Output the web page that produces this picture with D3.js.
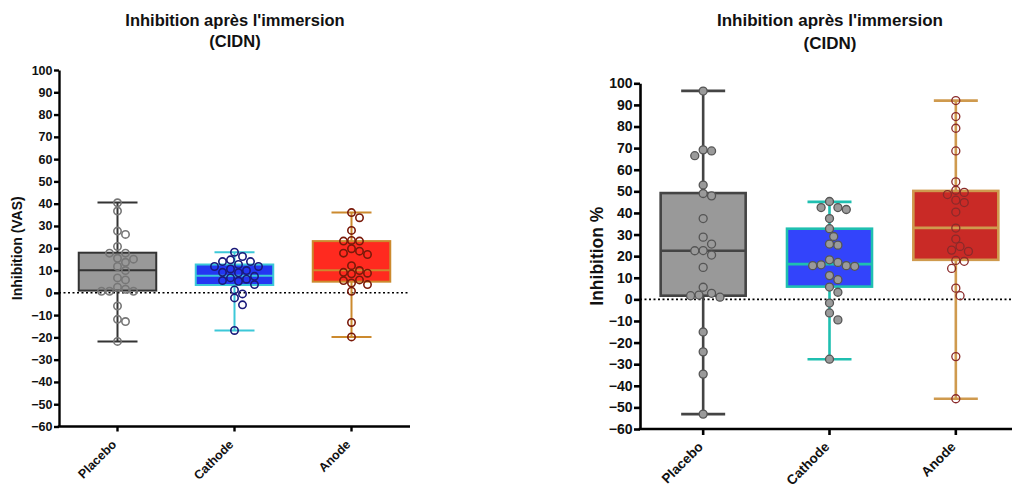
<!DOCTYPE html>
<html><head><meta charset="utf-8">
<script src="https://cdn.jsdelivr.net/npm/d3@7"></script>
<style>
body{margin:0;background:#fff;}
svg{display:block;font-family:Arial,"Liberation Sans",Helvetica,sans-serif;}
</style></head>
<body><svg id="c" width="1012" height="485"></svg>
<script>
const categories = ["Placebo","Cathode","Anode"];
const yTicks = [100,90,80,70,60,50,40,30,20,10,0,-10,-20,-30,-40,-50,-60];
const title = ["Inhibition après l'immersion","(CIDN)"];

// Left chart (VAS)
const vasPlacebo = [40.4,36.7,26.2,27.7,20.8,17.8,17.8,15.1,15.5,13.7,11.8,10,5.8,6.7,1.6,0.7,0.7,0.7,2.5,-5.9,-11.9,-12.9,-21.8];
const vasCathode = [18.2,16.3,14.8,14,14,12.7,11.8,11.8,10.7,10,9.2,9,7.4,6.7,6.1,5.2,5.5,3.7,1.3,-0.5,-2.3,-5.4,-16.9];
const vasAnode = [36,33.7,28,23.5,23.2,23.2,19.8,17.8,17.2,18.7,12.2,10,8.5,8.8,9.2,4.4,5.5,3.7,5.8,0.7,-13.3,-19.8];
// box stats: [whiskerLow, q1, median, q3, whiskerHigh]
const vasBoxes = [[-21.8,1,10.1,18,40.5],[-16.9,3.5,7.7,12.7,18.2],[-19.8,5,10.1,23.2,36]];

// Right chart (%)
const pctPlacebo = [96.4,69.2,66.5,68.7,52.9,47.9,49,37.4,28.8,25.6,22.5,22.6,20.5,14.8,5.6,2,1,1.7,2.8,-15.1,-24.3,-34.6,-53.1];
const pctCathode = [45.3,42.5,41.6,42.5,37.4,32.7,29.1,25.1,25.6,18.3,16,15.6,15.3,15.6,17.1,11,9.1,5.7,3.3,-1.7,-6.3,-9.5,-27.7];
const pctAnode = [92,84.6,79.2,68.7,54.4,50.5,49.5,48.5,44.8,45.9,40.4,33,27.9,24.5,22.2,22.8,18,17.6,14.3,5.2,1.7,-26.5,-46];
const pctBoxes = [[-53.1,1.7,22.5,49.2,96.5],[-27.7,5.9,16.3,32.7,45.1],[-46,18.3,33.1,50.2,92]];

const svg = d3.select("#c");

function beeswarm(vals, y, r, gap){
  const order = vals.map((v,i)=>({v,i})).sort((a,b)=>b.v-a.v);
  const placed = [];
  const out = new Array(vals.length);
  const d = 2*r+gap;
  const cands=[0];
  for(let j=1;j<20;j++){cands.push(j*d/2); cands.push(-j*d/2);}
  order.forEach(p=>{
    const py = y(p.v);
    let x=0;
    for(const cx of cands){
      const ok = placed.every(q=> (q.x-cx)**2+(q.y-py)**2 >= d*d-0.01);
      if(ok){x=cx;break;}
    }
    placed.push({x,y:py});
    out[p.i]={x,y:py,v:p.v};
  });
  return out;
}

function drawChart(cfg){
  const g = svg.append("g");
  const y = d3.scaleLinear().domain([-60,100]).range([cfg.y0, cfg.y1]);
  const x = d3.scaleBand().domain(categories).range([cfg.x0, cfg.x0+cfg.bandTotal]);
  const cx = c => x(c)+x.bandwidth()/2;

  title.forEach((t,i)=>{
    g.append("text").attr("x",cfg.titleX).attr("y",cfg.titleY+i*cfg.titleGap)
      .attr("text-anchor","middle").attr("font-weight","bold").attr("font-size",cfg.titleSize)
      .attr("fill","#111").text(t);
  });

  g.append("line").attr("x1",cfg.x0).attr("x2",cfg.xEnd).attr("y1",y(0)).attr("y2",y(0))
    .attr("stroke","#000").attr("stroke-width",1.6).attr("stroke-dasharray","2,2.5");

  categories.forEach((c,i)=>{
    const b = cfg.boxes[i], st = cfg.styles[i];
    const xc = cx(c), bw = cfg.boxW;
    g.append("line").attr("x1",xc).attr("x2",xc).attr("y1",y(b[0])).attr("y2",y(b[4]))
      .attr("stroke",st.stroke).attr("stroke-width",cfg.lw);
    [b[0],b[4]].forEach(v=>g.append("line").attr("x1",xc-cfg.capW/2).attr("x2",xc+cfg.capW/2)
      .attr("y1",y(v)).attr("y2",y(v)).attr("stroke",st.stroke).attr("stroke-width",cfg.lw));
    g.append("rect").attr("x",xc-bw/2).attr("width",bw).attr("y",y(b[3])).attr("height",y(b[1])-y(b[3]))
      .attr("fill",st.fill).attr("stroke",st.stroke).attr("stroke-width",cfg.lw);
    g.append("line").attr("x1",xc-bw/2).attr("x2",xc+bw/2).attr("y1",y(b[2])).attr("y2",y(b[2]))
      .attr("stroke",st.stroke).attr("stroke-width",cfg.lw);
  });

  categories.forEach((c,i)=>{
    const st = cfg.styles[i];
    const pts = beeswarm(cfg.data[i], y, cfg.r, cfg.gap);
    g.append("g").selectAll("circle").data(pts).join("circle")
      .attr("cx",d=>cx(c)+d.x).attr("cy",d=>d.y).attr("r",cfg.r)
      .attr("fill",st.ptFill).attr("stroke",st.ptStroke).attr("stroke-width",cfg.ptLw);
  });

  const ya = g.append("g").attr("transform",`translate(${cfg.x0},0)`)
    .call(d3.axisLeft(y).tickValues(yTicks).tickSize(cfg.tick).tickSizeOuter(0).tickPadding(1.5));
  ya.select(".domain").attr("stroke","#000").attr("stroke-width",cfg.axLw);
  ya.selectAll(".tick line").attr("stroke","#000").attr("stroke-width",cfg.axLw);
  ya.selectAll(".tick text").attr("font-weight","bold").attr("font-size",cfg.tickSize)
    .attr("font-family","Arial,'Liberation Sans',sans-serif").attr("fill","#111");

  const xa = g.append("g").attr("transform",`translate(0,${cfg.y0})`)
    .call(d3.axisBottom(x).tickSize(cfg.tick).tickSizeOuter(0).tickPadding(3));
  xa.select(".domain").attr("d",`M${cfg.x0-cfg.axLw/2},0H${cfg.xEnd}`).attr("stroke","#000").attr("stroke-width",cfg.axLw);
  xa.selectAll(".tick line").attr("stroke","#000").attr("stroke-width",cfg.axLw);
  xa.selectAll(".tick text").attr("font-weight","bold").attr("font-size",cfg.xTickSize)
    .attr("font-family","Arial,'Liberation Sans',sans-serif").attr("fill","#111")
    .attr("text-anchor","end").attr("dy","0.35em")
    .attr("transform",`translate(${cfg.xlDx},${cfg.xlDy}) rotate(-45)`);

  g.append("text").attr("transform",`translate(${cfg.ylabX},${(cfg.y0+cfg.y1)/2}) rotate(-90)`)
    .attr("text-anchor","middle").attr("font-weight","bold").attr("font-size",cfg.ylabSize)
    .attr("fill","#111").text(cfg.ylabel);
}

drawChart({
  x0:59, bandTotal:351, xEnd:410, y0:426.5, y1:70,
  titleX:235, titleY:26, titleGap:21, titleSize:16.5,
  boxes:vasBoxes, data:[vasPlacebo,vasCathode,vasAnode],
  boxW:77.5, capW:40, lw:2, axLw:2.4, tick:5, tickSize:12.5, xTickSize:12.5,
  r:3.7, gap:0.6, ptLw:1.6,
  xlDx:-9, xlDy:10,
  ylabX:22, ylabSize:14, ylabel:"Inhibition (VAS)",
  styles:[
    {fill:"#999999",stroke:"#333333",ptFill:"none",ptStroke:"#777777"},
    {fill:"#2437f2",stroke:"#3cc8d8",ptFill:"none",ptStroke:"#1a1a7a"},
    {fill:"#ff2a1f",stroke:"#cc8a2e",ptFill:"none",ptStroke:"#7a1a0a"}
  ]
});

drawChart({
  x0:640, bandTotal:379, xEnd:1015, y0:429, y1:83.3,
  titleX:830, titleY:26, titleGap:23, titleSize:17,
  boxes:pctBoxes, data:[pctPlacebo,pctCathode,pctAnode],
  boxW:85, capW:44, lw:2.6, axLw:2.6, tick:6, tickSize:14, xTickSize:13.5,
  r:4, gap:0.4, ptLw:1.3,
  xlDx:-9, xlDy:9,
  ylabX:603, ylabSize:17.5, ylabel:"Inhibition %",
  styles:[
    {fill:"#999999",stroke:"#444444",ptFill:"#9a9a9a",ptStroke:"#555555"},
    {fill:"#3344fb",stroke:"#1fbfb0",ptFill:"#9a9a9a",ptStroke:"#555555"},
    {fill:"#c92a26",stroke:"#cf9a4e",ptFill:"none",ptStroke:"#8a2a2a"}
  ]
});
</script></body></html>
